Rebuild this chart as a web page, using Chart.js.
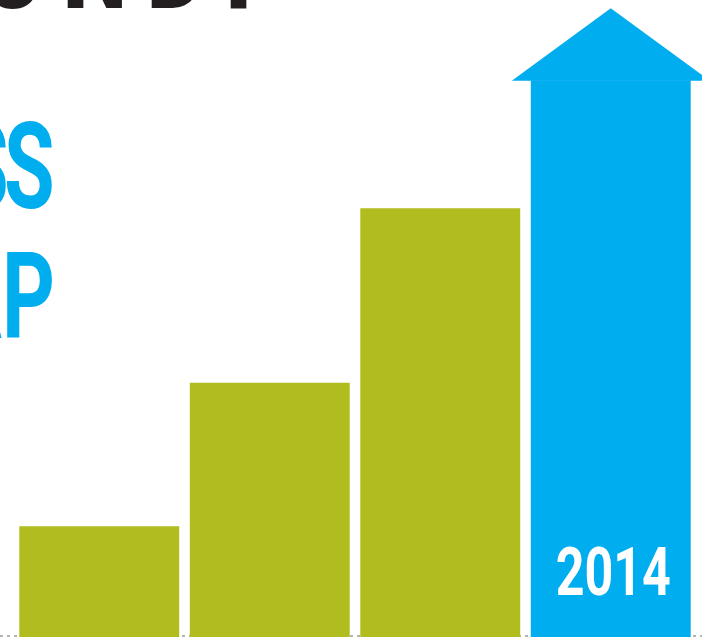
<!DOCTYPE html>
<html><head><meta charset="utf-8">
<script src="https://cdn.jsdelivr.net/npm/chart.js@4.4.1/dist/chart.umd.min.js"></script>
<style>html,body{margin:0;padding:0;background:#fff;overflow:hidden}#wrap{width:702px;height:638px;position:relative}</style>
</head><body><div id="wrap"><canvas id="c" width="702" height="638"></canvas></div>
<script>
// ---- data ----
const categories = ['', '', '', '2014'];
const values = [17.4, 39.9, 67.3, 87.4];
const yMax = 100;
const headingTop = 'UNDP';
const headingLines = ['SS', 'AP'];
const highlightLabel = '2014';

const olive = '#b1bc1f', blue = '#00adef', dark = '#231f20';
const barColors = values.map((v, i) => categories[i] === highlightLabel ? blue : olive);

function drawText(ctx, text, o) {
  ctx.save();
  ctx.font = o.font;
  try { ctx.letterSpacing = o.ls || '0px'; } catch (e) {}
  ctx.textAlign = 'left';
  ctx.textBaseline = 'alphabetic';
  const m = ctx.measureText(text);
  const inkL = -m.actualBoundingBoxLeft, inkR = m.actualBoundingBoxRight;
  let origin;
  if (o.anchor === 'right') origin = o.x - o.sx * inkR;
  else if (o.anchor === 'left') origin = o.x - o.sx * inkL;
  else if (o.anchor === 'sub') {
    const pre = ctx.measureText(o.pre).width;
    const mc = ctx.measureText(o.ch);
    origin = o.x - o.sx * (pre - mc.actualBoundingBoxLeft);
  }
  else origin = o.x - o.sx * (inkL + inkR) / 2;
  ctx.translate(origin, o.y);
  ctx.scale(o.sx, 1);
  ctx.fillStyle = o.color;
  ctx.fillText(text, 0, 0);
  ctx.restore();
}

const decor = {
  id: 'decor',
  beforeDatasetsDraw(chart) {
    const ctx = chart.ctx;
    const y0 = chart.scales.y.getPixelForValue(0) - 1;
    ctx.save();
    ctx.strokeStyle = '#9a9a9a';
    ctx.lineWidth = 1.5;
    ctx.setLineDash([3, 4]);
    ctx.beginPath();
    ctx.moveTo(0, y0); ctx.lineTo(chart.width, y0);
    ctx.stroke();
    ctx.restore();

    // heading texts
    drawText(ctx, headingTop, {font: '900 110px Roboto', sx: 0.83, ls: '24px', anchor: 'sub', pre: 'UND', ch: 'P', x: 230, y: 7.5, color: dark});
    drawText(ctx, headingLines[0], {font: 'bold 120px Roboto', sx: 0.686, ls: '-7px', anchor: 'right', x: 52, y: 208, color: blue});
    drawText(ctx, headingLines[1], {font: 'bold 120px Roboto', sx: 0.686, ls: '0px', anchor: 'right', x: 52, y: 338, color: blue});
  },
  afterDatasetsDraw(chart) {
    const ctx = chart.ctx;
    const meta = chart.getDatasetMeta(0);
    categories.forEach((c, i) => {
      if (c !== highlightLabel) return;
      const el = meta.data[i];
      const half = el.width / 2 + 19;
      const head = 72;
      ctx.save();
      ctx.fillStyle = blue;
      ctx.beginPath();
      ctx.moveTo(el.x - half, el.y + 0.5);
      ctx.lineTo(el.x, el.y - head);
      ctx.lineTo(el.x + half, el.y + 0.5);
      ctx.closePath();
      ctx.fill();
      ctx.restore();
      drawText(ctx, c, {font: 'bold 66px Roboto', sx: 0.76, anchor: 'center', x: el.x + 3, y: 595, color: '#ffffff'});
    });
  }
};

new Chart(document.getElementById('c'), {
  type: 'bar',
  data: {
    labels: categories,
    datasets: [{
      data: values,
      backgroundColor: barColors,
      borderWidth: 0,
      barPercentage: 0.938,
      categoryPercentage: 1
    }]
  },
  options: {
    responsive: false,
    animation: false,
    layout: {padding: {left: 14, right: 6, top: 0, bottom: 1}},
    scales: {
      x: {display: false},
      y: {display: false, min: 0, max: yMax}
    },
    plugins: {legend: {display: false}, tooltip: {enabled: false}}
  },
  plugins: [decor]
});
</script>
</body></html>
